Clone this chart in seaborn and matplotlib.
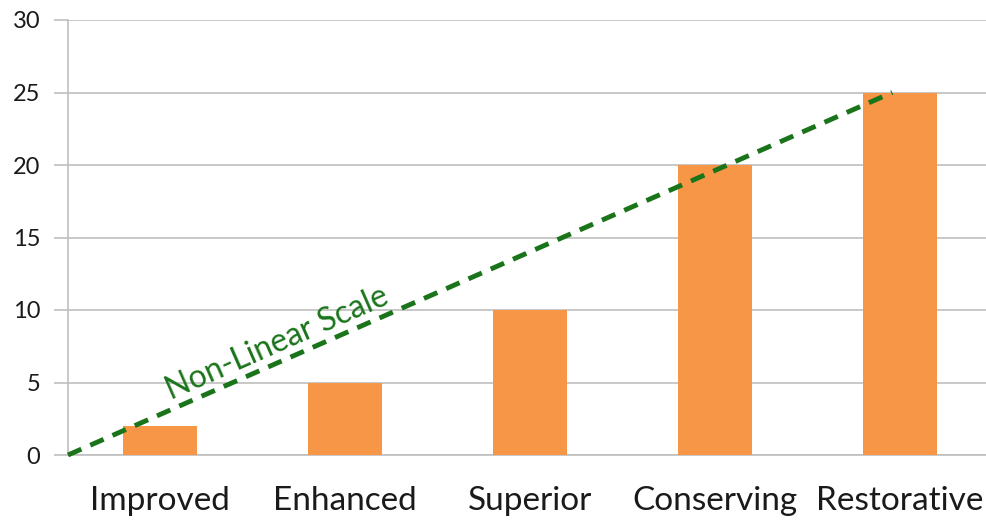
import matplotlib
matplotlib.use("Agg")
import matplotlib.pyplot as plt
import seaborn as sns
import pandas as pd

categories = ["Improved", "Enhanced", "Superior", "Conserving", "Restorative"]
values = [2, 5, 10, 20, 25]
y_ticks = [0, 5, 10, 15, 20, 25, 30]
trend_x = [-0.5, 3.96]
trend_y = [0, 25]
trend_label = "Non-Linear Scale"

BAR_COLOR = "#F79646"
LINE_GREEN = "#1A741A"
GRID_GRAY = "#BFBFBF"


def main():
    sns.set_style("white")
    plt.rcParams["font.family"] = ["Lato", "DejaVu Sans"]

    df = pd.DataFrame({"category": categories, "value": values})

    fig = plt.figure(figsize=(9.86, 5.2), dpi=100)
    ax = fig.add_axes([68 / 986, 65 / 520, 924 / 986, 435 / 520])

    sns.barplot(data=df, x="category", y="value", color=BAR_COLOR,
                width=0.4, saturation=1, linewidth=0, ax=ax, zorder=3)

    ax.plot(trend_x, trend_y, color=LINE_GREEN, lw=3.5,
            dashes=(3, 2), zorder=4, clip_on=False)
    ax.text(0.63, 7.7, trend_label, color=LINE_GREEN, fontsize=23,
            rotation=23.8, rotation_mode="anchor",
            ha="center", va="center", zorder=5)

    ax.set_xlim(-0.5, 4.5)
    ax.set_ylim(0, 30)
    ax.set_yticks(y_ticks)
    ax.yaxis.grid(True, color=GRID_GRAY, lw=1.2)
    ax.set_axisbelow(True)

    for side in ["top", "right"]:
        ax.spines[side].set_visible(False)
    for side in ["left", "bottom"]:
        ax.spines[side].set_color(GRID_GRAY)
        ax.spines[side].set_linewidth(1.2)

    ax.set_xticks(range(len(categories)))
    ax.set_xticklabels(categories)
    ax.set_xticks([i + 0.5 for i in range(len(categories) - 1)], minor=True)
    ax.tick_params(axis="x", which="major", length=0, pad=22,
                   labelsize=24, labelcolor="#1a1a1a")
    ax.tick_params(axis="x", which="minor", length=8, width=1.2,
                   color=GRID_GRAY, direction="out")
    ax.tick_params(axis="y", length=10, width=1.2, color=GRID_GRAY,
                   pad=10, labelsize=17, labelcolor="#1a1a1a", left=True)

    ax.set_xlabel("")
    ax.set_ylabel("")

    fig.savefig("out.png", dpi=100)


if __name__ == "__main__":
    main()
